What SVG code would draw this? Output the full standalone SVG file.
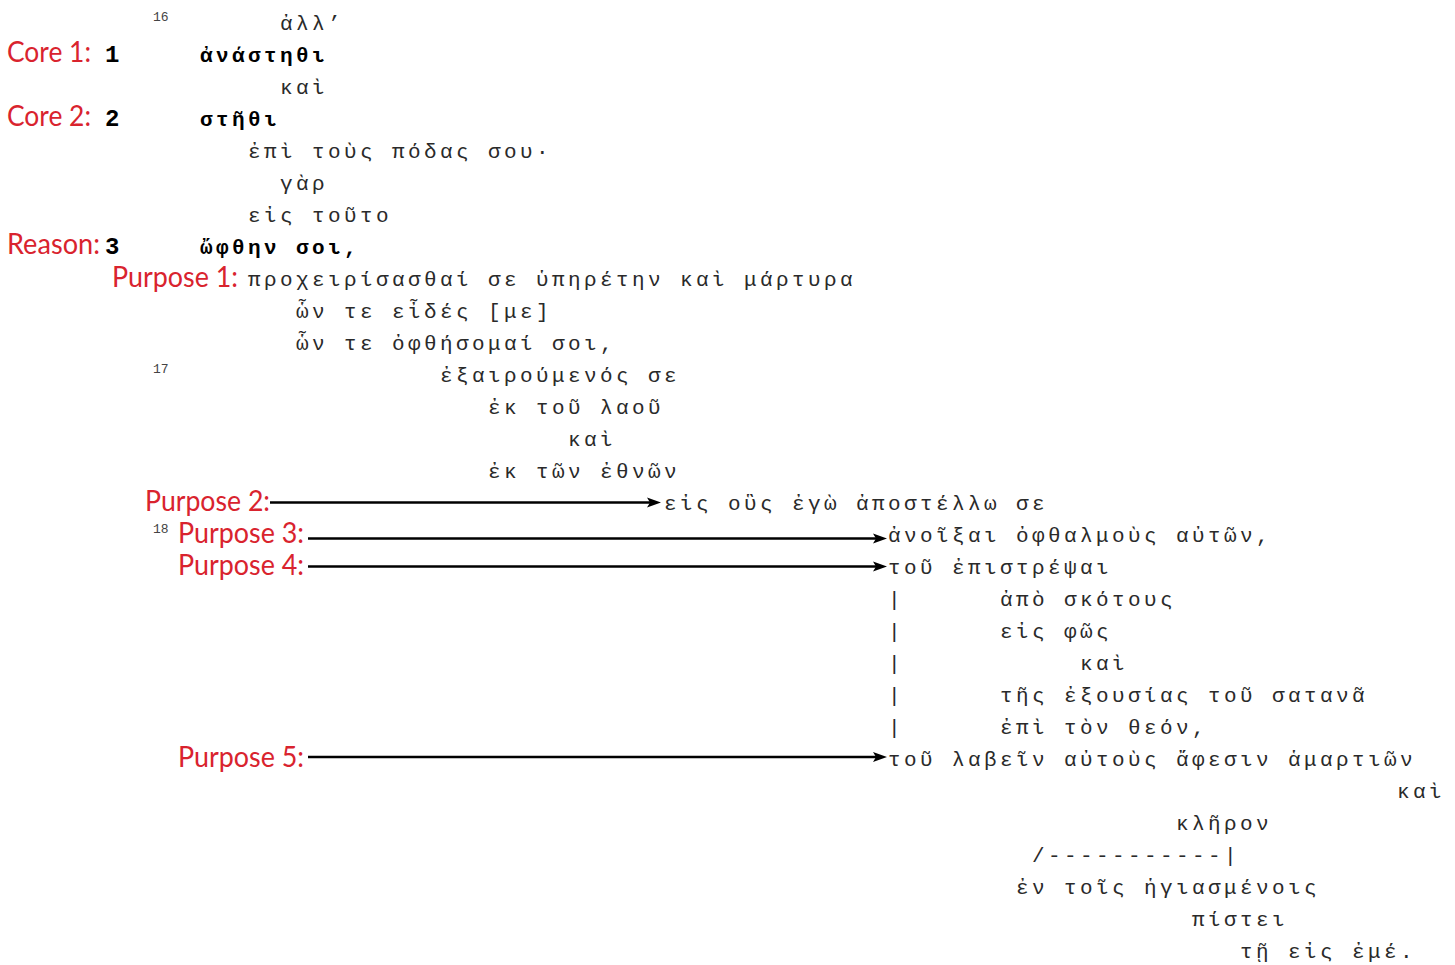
<svg xmlns="http://www.w3.org/2000/svg" width="1455" height="965" viewBox="0 0 1455 965">
<style>
.g{font-family:"Liberation Mono","DejaVu Sans Mono",monospace;font-size:21px;letter-spacing:3.4px;fill:#2a2a2a}
.b{font-family:"Liberation Mono","DejaVu Sans Mono",monospace;font-size:21px;letter-spacing:3.4px;font-weight:bold;fill:#000}
.n{font-family:"Liberation Mono","DejaVu Sans Mono",monospace;font-size:24px;font-weight:bold;fill:#000}
.v{font-family:"Liberation Mono","DejaVu Sans Mono",monospace;font-size:13px;fill:#444}
.r{font-family:Lato,"Open Sans","Liberation Sans",sans-serif;font-size:28px;fill:#d9232e}
.c{stroke:#000;stroke-width:2.3;fill:none}
</style>
<defs>
<marker id="ah" markerUnits="userSpaceOnUse" markerWidth="16" markerHeight="12" refX="6" refY="6" orient="auto">
<path d="M0,1 L14,6 L0,11 L3,6 Z" fill="#000"/>
</marker>
</defs>
<rect width="1455" height="965" fill="#fff"/>
<g id="labels">
<text class="r" x="7" y="62" textLength="84" lengthAdjust="spacingAndGlyphs">Core 1:</text>
<text class="r" x="7" y="126" textLength="84" lengthAdjust="spacingAndGlyphs">Core 2:</text>
<text class="r" x="7" y="254" textLength="93" lengthAdjust="spacingAndGlyphs">Reason:</text>
<text class="r" x="112" y="287" textLength="126" lengthAdjust="spacingAndGlyphs">Purpose 1:</text>
<text class="r" x="145" y="511" textLength="125" lengthAdjust="spacingAndGlyphs">Purpose 2:</text>
<text class="r" x="178" y="543" textLength="126" lengthAdjust="spacingAndGlyphs">Purpose 3:</text>
<text class="r" x="178" y="575" textLength="126" lengthAdjust="spacingAndGlyphs">Purpose 4:</text>
<text class="r" x="178" y="767" textLength="126" lengthAdjust="spacingAndGlyphs">Purpose 5:</text>
</g>
<g id="numbers">
<text class="n" x="105" y="62">1</text>
<text class="n" x="105" y="126">2</text>
<text class="n" x="105" y="254">3</text>
<text class="v" x="153" y="21">16</text>
<text class="v" x="153" y="373">17</text>
<text class="v" x="153" y="533">18</text>
</g>
<g id="l00"><text class="g" x="280" y="30">ἀλλ’</text></g>
<g id="l01"><text class="b" x="200" y="62">ἀνάστηθι</text></g>
<g id="l02"><text class="g" x="280" y="94">καὶ</text></g>
<g id="l03"><text class="b" x="200" y="126">στῆθι</text></g>
<g id="l04"><text class="g" x="248" y="158">ἐπὶ τοὺς πόδας σου·</text></g>
<g id="l05"><text class="g" x="280" y="190">γὰρ</text></g>
<g id="l06"><text class="g" x="248" y="222">εἰς τοῦτο</text></g>
<g id="l07"><text class="b" x="200" y="254">ὤφθην σοι,</text></g>
<g id="l08"><text class="g" x="248" y="286">προχειρίσασθαί σε ὑπηρέτην καὶ μάρτυρα</text></g>
<g id="l09"><text class="g" x="296" y="318">ὧν τε εἶδές [με]</text></g>
<g id="l10"><text class="g" x="296" y="350">ὧν τε ὀφθήσομαί σοι,</text></g>
<g id="l11"><text class="g" x="440" y="382">ἐξαιρούμενός σε</text></g>
<g id="l12"><text class="g" x="488" y="414">ἐκ τοῦ λαοῦ</text></g>
<g id="l13"><text class="g" x="568" y="446">καὶ</text></g>
<g id="l14"><text class="g" x="488" y="478">ἐκ τῶν ἐθνῶν</text></g>
<g id="l15"><text class="g" x="664" y="510">εἰς οὓς ἐγὼ ἀποστέλλω σε</text></g>
<g id="l16"><text class="g" x="888" y="542">ἀνοῖξαι ὀφθαλμοὺς αὐτῶν,</text></g>
<g id="l17"><text class="g" x="888" y="574">τοῦ ἐπιστρέψαι</text></g>
<g id="l18"><text class="g" x="888" y="606">|</text><text class="g" x="1000" y="606">ἀπὸ σκότους</text></g>
<g id="l19"><text class="g" x="888" y="638">|</text><text class="g" x="1000" y="638">εἰς φῶς</text></g>
<g id="l20"><text class="g" x="888" y="670">|</text><text class="g" x="1080" y="670">καὶ</text></g>
<g id="l21"><text class="g" x="888" y="702">|</text><text class="g" x="1000" y="702">τῆς ἐξουσίας τοῦ σατανᾶ</text></g>
<g id="l22"><text class="g" x="888" y="734">|</text><text class="g" x="1000" y="734">ἐπὶ τὸν θεόν,</text></g>
<g id="l23"><text class="g" x="888" y="766">τοῦ λαβεῖν αὐτοὺς ἄφεσιν ἁμαρτιῶν</text></g>
<g id="l24"><text class="g" x="1397" y="798">καὶ</text></g>
<g id="l25"><text class="g" x="1176" y="830">κλῆρον</text></g>
<g id="l26"><text class="g" x="1032" y="862">/-----------|</text></g>
<g id="l27"><text class="g" x="1016" y="894">ἐν τοῖς ἡγιασμένοις</text></g>
<g id="l28"><text class="g" x="1192" y="926">πίστει</text></g>
<g id="l29"><text class="g" x="1240" y="958">τῇ εἰς ἐμέ.</text></g>
<g id="connectors">
<line class="c" x1="270" y1="502.5" x2="653" y2="502.5" marker-end="url(#ah)"/>
<line class="c" x1="308" y1="538.5" x2="879" y2="538.5" marker-end="url(#ah)"/>
<line class="c" x1="308" y1="566.5" x2="879" y2="566.5" marker-end="url(#ah)"/>
<line class="c" x1="308" y1="757" x2="879" y2="757" marker-end="url(#ah)"/>
</g>
</svg>
